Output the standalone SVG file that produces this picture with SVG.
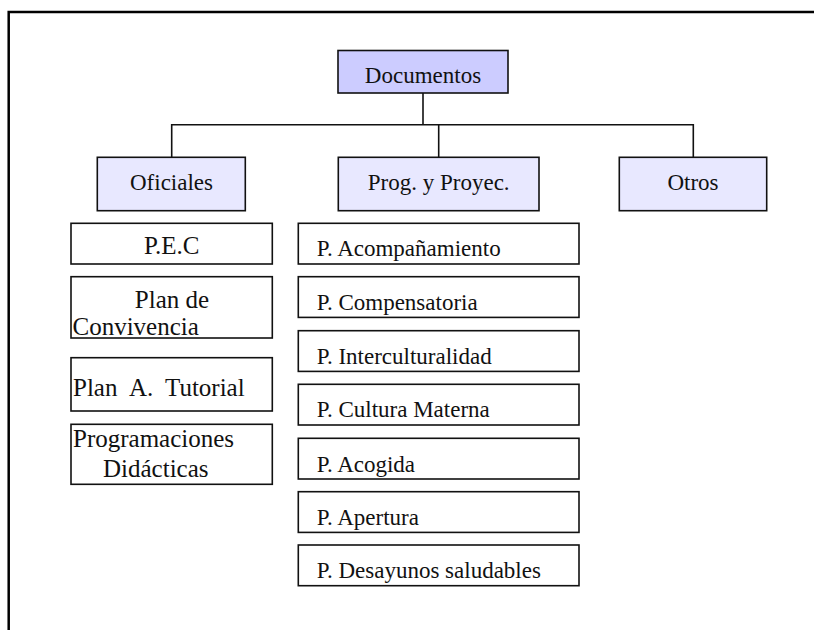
<svg xmlns="http://www.w3.org/2000/svg" width="814" height="630" viewBox="0 0 814 630">
<style>
.box{stroke:#111;stroke-width:1.6;}
.top{fill:#ccccff;}
.mid{fill:#e8e8ff;}
.leaf{fill:#ffffff;}
text{font-family:"Liberation Serif","Times New Roman",serif;font-size:23px;fill:#111;white-space:pre;}
.big{font-size:25px;}
.c{text-anchor:middle;}
.conn{stroke:#111;stroke-width:1.6;fill:none;}
.frame{stroke:#000;stroke-width:2.5;fill:none;}
</style>
<rect x="0" y="0" width="814" height="630" fill="#fff"/>
<path class="frame" d="M8.7,630 V12 H814"/>
<g id="connectors">
<path class="conn" d="M423,93 V124.7"/>
<path class="conn" d="M171.7,157.3 V124.7 H693.3 V157.3"/>
<path class="conn" d="M438.7,124.7 V157.3"/>
</g>
<g id="documentos"><rect class="box top" x="338" y="50.5" width="170" height="42.5"/><text class="c" x="423" y="83">Documentos</text></g>
<g id="oficiales"><rect class="box mid" x="97.3" y="157.3" width="148" height="53.4"/><text class="c" x="171.5" y="190">Oficiales</text></g>
<g id="prog"><rect class="box mid" x="338.3" y="157.3" width="200.7" height="53.4"/><text class="c" x="438.7" y="190">Prog. y Proyec.</text></g>
<g id="otros"><rect class="box mid" x="619.3" y="157.3" width="147.4" height="53.4"/><text class="c" x="693" y="190">Otros</text></g>

<g id="pec"><rect class="box leaf" x="71" y="223.3" width="201.3" height="40.7"/><text class="c big" x="171.7" y="254">P.E.C</text></g>
<g id="convivencia"><rect class="box leaf" x="71" y="276.7" width="201.3" height="61.3"/><text class="c big" x="172" y="308">Plan de</text><text class="big" x="72.5" y="335">Convivencia</text></g>
<g id="tutorial"><rect class="box leaf" x="71" y="357.7" width="201.3" height="53.3"/><text class="big" x="73" y="396">Plan</text><text class="big" x="129" y="396">A.</text><text class="big" x="165" y="396">Tutorial</text></g>
<g id="programaciones"><rect class="box leaf" x="71" y="424.3" width="201.3" height="60"/><text class="big" x="73" y="447">Programaciones</text><text class="big" x="103" y="477">Didácticas</text></g>

<g id="acompanamiento"><rect class="box leaf" x="298.3" y="223.3" width="280.7" height="40.7"/><text x="316.7" y="256">P. Acompañamiento</text></g>
<g id="compensatoria"><rect class="box leaf" x="298.3" y="276.7" width="280.7" height="40.7"/><text x="316.7" y="309.5">P. Compensatoria</text></g>
<g id="interculturalidad"><rect class="box leaf" x="298.3" y="330.7" width="280.7" height="40.7"/><text x="316.7" y="363.5">P. Interculturalidad</text></g>
<g id="cultura"><rect class="box leaf" x="298.3" y="384.3" width="280.7" height="40.7"/><text x="316.7" y="417">P. Cultura Materna</text></g>
<g id="acogida"><rect class="box leaf" x="298.3" y="438.3" width="280.7" height="40.7"/><text x="316.7" y="471.5">P. Acogida</text></g>
<g id="apertura"><rect class="box leaf" x="298.3" y="491.7" width="280.7" height="40.7"/><text x="316.7" y="524.5">P. Apertura</text></g>
<g id="desayunos"><rect class="box leaf" x="298.3" y="545" width="280.7" height="40.7"/><text x="316.7" y="578">P. Desayunos saludables</text></g>
</svg>
